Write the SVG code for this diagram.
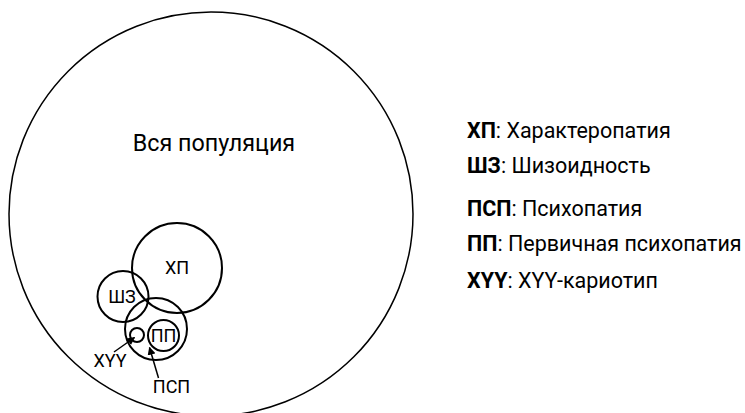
<svg xmlns="http://www.w3.org/2000/svg" width="745" height="413" viewBox="0 0 745 413">
<style>
.c{fill:none;stroke:#000;stroke-width:2}
.t{font-family:Roboto,"Liberation Sans",sans-serif;fill:#000}
.lbl{font-size:18px;text-anchor:middle}
.leg{font-size:21.5px}
.b{font-weight:bold}
.a{stroke:#000;stroke-width:1.5;fill:none}
</style>
<defs>
<marker id="ah" viewBox="0 0 10 10" refX="9" refY="5" markerWidth="8" markerHeight="8" orient="auto" markerUnits="userSpaceOnUse">
<path d="M0,0 L10,5 L0,10 z" fill="#000"/>
</marker>
</defs>
<rect width="745" height="413" fill="#fff"/>
<g id="population">
<circle cx="211" cy="214" r="202" fill="none" stroke="#000" stroke-width="1.5"/>
<text class="t" x="214" y="151" font-size="23.3" text-anchor="middle">Вся популяция</text>
</g>
<g id="hp">
<circle class="c" cx="177" cy="268" r="45"/>
<text class="t lbl" x="177" y="274">ХП</text>
</g>
<g id="shz">
<circle class="c" cx="123" cy="296.5" r="25.5"/>
<text class="t lbl" x="122" y="303">ШЗ</text>
</g>
<g id="psp">
<circle class="c" cx="156" cy="329" r="31"/>
<text class="t lbl" x="171.5" y="393">ПСП</text>
</g>
<g id="pp">
<circle class="c" cx="163.5" cy="335.5" r="15.5"/>
<text class="t lbl" x="163.5" y="342">ПП</text>
</g>
<g id="xyy">
<circle class="c" cx="137" cy="335" r="7"/>
<text class="t lbl" x="110" y="367">XYY</text>
</g>
<g id="connectors">
<line class="a" x1="114" y1="352" x2="134.5" y2="337.5" marker-end="url(#ah)"/>
<line class="a" x1="158.5" y1="378" x2="149.5" y2="347.5" marker-end="url(#ah)"/>
</g>
<g id="legend" class="t leg">
<text x="467" y="138"><tspan class="b">ХП</tspan>: Характеропатия</text>
<text x="467" y="173"><tspan class="b">ШЗ</tspan>: Шизоидность</text>
<text x="467" y="216"><tspan class="b">ПСП</tspan>: Психопатия</text>
<text x="467" y="251"><tspan class="b">ПП</tspan>: Первичная психопатия</text>
<text x="467" y="288"><tspan class="b">XYY</tspan>: XYY-кариотип</text>
</g>
</svg>
